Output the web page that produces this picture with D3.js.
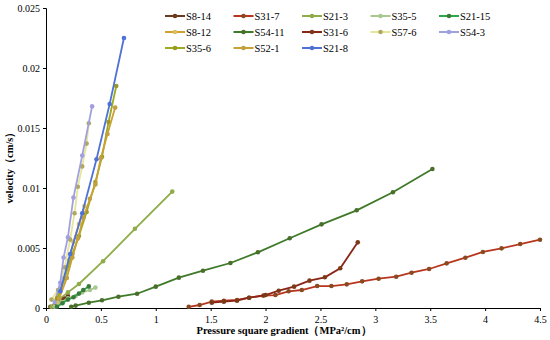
<!DOCTYPE html>
<html>
<head>
<meta charset="utf-8">
<script src="https://cdn.jsdelivr.net/npm/d3@7"></script>
<style>
body{margin:0;background:#fff;}
text{font-family:"Liberation Serif","Times New Roman",serif;}
</style>
</head>
<body>
<svg id="chart" width="550" height="340"></svg>
<script>
var names = ["S8-14","S31-7","S21-3","S35-5","S21-15","S8-12","S54-11","S31-6","S57-6","S54-3","S35-6","S52-1","S21-8"];
var lineColors = ["#6b3a1f","#b8361e","#8fac48","#a8c890","#2aa84a","#d4a030","#3f7a2a","#8a2516","#e6e69a","#a0a0e0","#9aaa22","#c9a232","#4f72d6"];
var dotColors = ["#6b3a1f","#8a4a20","#8fac48","#a8c890","#3c7a3c","#d8c060","#4a6f2a","#7a3a18","#b0a860","#a0a0e0","#9a9a20","#c0a040","#4f72d6"];

// x = pressure square gradient, y = velocity
var s8_14x = [0.04,0.08,0.12,0.16,0.2];
var s8_14y = [0.0001,0.0003,0.0005,0.0008,0.001];
var s31_7x = [1.3,1.4,1.51,1.62,1.74,1.85,1.98,2.09,2.21,2.33,2.47,2.6,2.74,2.88,3.03,3.19,3.33,3.49,3.65,3.82,3.98,4.15,4.32,4.5];
var s31_7y = [0.0001,0.00025,0.00053,0.00061,0.00067,0.00086,0.00103,0.00108,0.00139,0.0015,0.00183,0.00183,0.00197,0.00222,0.00244,0.00261,0.00294,0.00325,0.00372,0.00419,0.00467,0.00497,0.00533,0.00569];
var s21_3x = [0.05,0.1,0.2,0.3,0.52,0.81,1.15];
var s21_3y = [0.0001,0.0006,0.0013,0.002,0.0039,0.0066,0.0097];
var s35_5x = [0.08,0.14,0.2,0.27,0.33,0.4,0.45];
var s35_5y = [0.0001,0.0005,0.0008,0.001,0.0013,0.0015,0.0017];
var s21_15x = [0.1,0.15,0.2,0.25,0.3,0.34,0.39];
var s21_15y = [0.0001,0.0004,0.0007,0.0009,0.0012,0.0015,0.0018];
var s8_12x = [0.1,0.16,0.21,0.25,0.3,0.35];
var s8_12y = [0.0005,0.0022,0.004,0.0055,0.007,0.0085];
var s54_11x = [0.23,0.27,0.39,0.51,0.66,0.83,1.0,1.21,1.43,1.68,1.93,2.22,2.51,2.83,3.16,3.52];
var s54_11y = [0.0001,0.0002,0.00044,0.00064,0.00094,0.00119,0.00178,0.00253,0.00311,0.00375,0.00464,0.00581,0.00697,0.00814,0.00964,0.01158];
var s31_6x = [1.51,1.62,1.74,1.85,2.0,2.12,2.26,2.4,2.54,2.68,2.84];
var s31_6y = [0.00044,0.00053,0.00061,0.00086,0.00108,0.00144,0.00178,0.00228,0.00256,0.00331,0.00547];
var s57_6x = [0.05,0.11,0.17,0.22,0.26,0.29,0.33,0.37,0.39];
var s57_6y = [0.0007,0.0015,0.0034,0.0057,0.0079,0.0101,0.0118,0.0137,0.0154];
var s54_3x = [0.08,0.13,0.16,0.2,0.25,0.33,0.42];
var s54_3y = [0.0005,0.0021,0.0042,0.0059,0.0092,0.0127,0.0168];
var s35_6x = [0.1,0.17,0.24,0.3,0.37,0.45,0.51,0.57,0.64];
var s35_6y = [0.0008,0.0025,0.0045,0.006,0.008,0.0105,0.0126,0.0155,0.0185];
var s52_1x = [0.12,0.19,0.24,0.29,0.34,0.4,0.45,0.5,0.56,0.63];
var s52_1y = [0.0008,0.0025,0.0042,0.0058,0.0075,0.0091,0.0103,0.0125,0.0145,0.0167];
var s21_8x = [0.13,0.22,0.33,0.46,0.58,0.71];
var s21_8y = [0.0014,0.0045,0.0079,0.0124,0.017,0.0225];

var xs = [s8_14x,s31_7x,s21_3x,s35_5x,s21_15x,s8_12x,s54_11x,s31_6x,s57_6x,s54_3x,s35_6x,s52_1x,s21_8x];
var ys = [s8_14y,s31_7y,s21_3y,s35_5y,s21_15y,s8_12y,s54_11y,s31_6y,s57_6y,s54_3y,s35_6y,s52_1y,s21_8y];

var xTicks = [0,0.5,1,1.5,2,2.5,3,3.5,4,4.5];
var yTicks = [0,0.005,0.01,0.015,0.02,0.025];

var svg = d3.select("#chart");
var margins = {left:46, right:10, top:8, bottom:32};

var xScale = d3.scaleLinear().domain([0,4.5]).range([margins.left,540]);
var yScale = d3.scaleLinear().domain([0,0.025]).range([308,margins.top]);

// axes
var xAxis = d3.axisBottom(xScale).tickValues(xTicks).tickFormat(function(d){return d;}).tickSize(3);
var yAxis = d3.axisLeft(yScale).tickValues(yTicks).tickFormat(function(d){return d;}).tickSize(3);

svg.append("g").attr("transform","translate(0,308)").call(xAxis)
   .call(function(g){g.selectAll("text").attr("font-size","10px").attr("dy","0.9em").attr("fill","#000");});
svg.append("g").attr("transform","translate(46,0)").call(yAxis)
   .call(function(g){g.selectAll("text").attr("font-size","10px").attr("fill","#000").attr("x",-6);});
svg.selectAll(".domain").attr("stroke","#000");
svg.selectAll(".tick line").attr("stroke","#000");

// series
var line = d3.line().x(function(d){return xScale(d[0]);}).y(function(d){return yScale(d[1]);});
names.forEach(function(n,i){
  var pts = xs[i].map(function(x,j){return [x, ys[i][j]];});
  var g = svg.append("g");
  g.append("path").datum(pts).attr("d",line)
   .attr("fill","none").attr("stroke",lineColors[i]).attr("stroke-width",1.8);
  g.selectAll("circle").data(pts).enter().append("circle")
   .attr("cx",function(d){return xScale(d[0]);})
   .attr("cy",function(d){return yScale(d[1]);})
   .attr("r",2.3).attr("fill",dotColors[i]);
});

// legend
var leg = svg.append("g");
names.forEach(function(n,i){
  var col = i % 5, row = Math.floor(i/5);
  var lx = 165 + col*68.5, ly = 16 + row*16;
  leg.append("line").attr("x1",lx).attr("x2",lx+20).attr("y1",ly).attr("y2",ly)
     .attr("stroke",lineColors[i]).attr("stroke-width",2);
  leg.append("circle").attr("cx",lx+10).attr("cy",ly).attr("r",2.3).attr("fill",dotColors[i]);
  leg.append("text").attr("x",lx+21).attr("y",ly+3.5).attr("font-size","10.5px").text(n);
});

// titles
svg.append("text").attr("x",284).attr("y",334).attr("text-anchor","middle")
   .attr("font-size","10.5px").attr("font-weight","bold").text("Pressure square gradient（MPa²/cm）");
svg.append("text").attr("transform","translate(13,165) rotate(-90)").attr("text-anchor","middle")
   .attr("font-size","10.5px").attr("font-weight","bold").text("velocity（cm/s）");
</script>
</body>
</html>
